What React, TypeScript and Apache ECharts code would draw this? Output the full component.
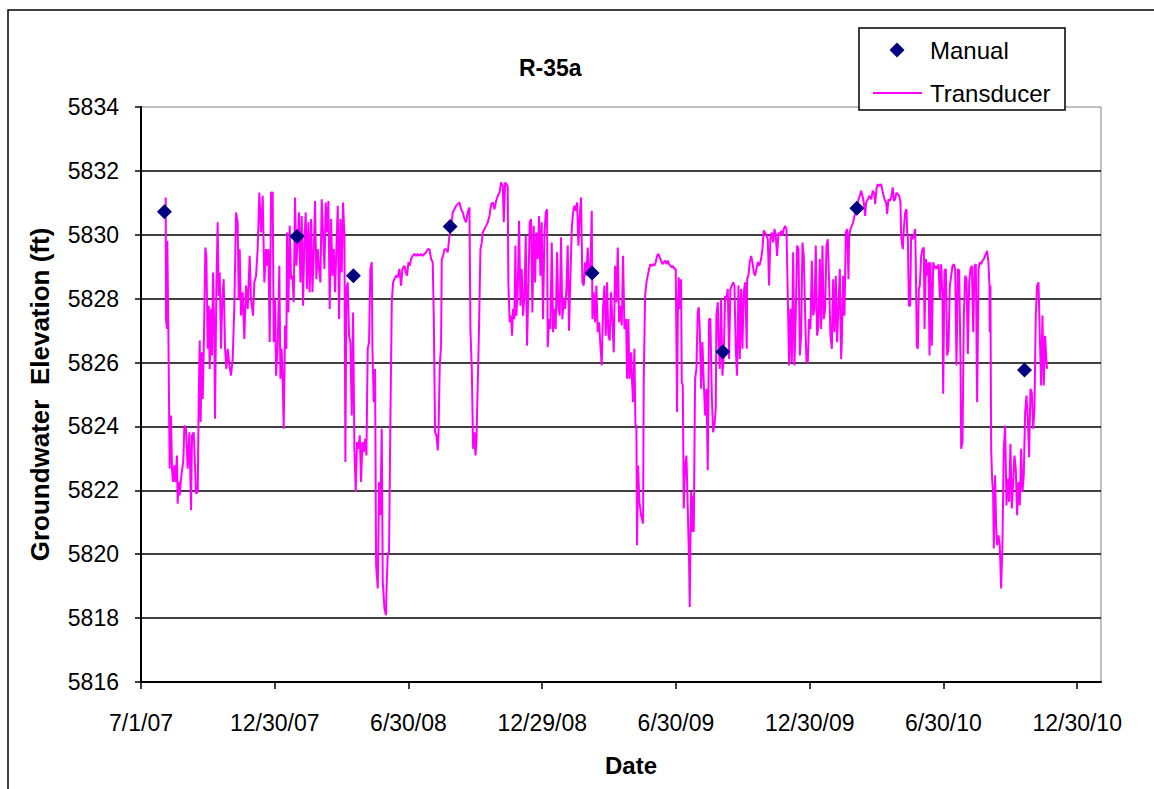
import React, { useEffect, useRef } from "react";
import * as echarts from "echarts";

// x = days since 7/1/07, y = groundwater elevation (ft)
const xTickDays = [0, 182.5, 365, 547.5, 730, 912.5, 1095, 1277.5];
const xTickLabels = ["7/1/07", "12/30/07", "6/30/08", "12/29/08", "6/30/09", "12/30/09", "6/30/10", "12/30/10"];
const yTicks = [5816, 5818, 5820, 5822, 5824, 5826, 5828, 5830, 5832, 5834];
const seriesNames = ["Manual", "Transducer"];

const manual: [number, number][] = [
  [32, 5830.72], [212.9, 5829.95], [289.8, 5828.72], [421.8, 5830.26],
  [615.5, 5828.8], [793.9, 5826.34], [976.8, 5830.83], [1205.6, 5825.77],
];

const augToDec2007: [number, number][] = [
  [33.7,5831.17],[34.1,5827.36],[35.5,5827.05],[35.9,5829.81],[37.3,5827.05],[39.1,5822.68],[41.0,5824.34],[42.3,5822.68],[43.7,5822.26],[45.5,5822.78],[46.9,5822.26],[49.1,5823.09],[50.0,5821.58],[51.4,5822.26],[52.8,5821.84],[54.6,5822.36],[57.8,5822.94],[59.2,5824.03],[61.4,5823.93],[63.7,5822.68],[66.0,5823.82],[68.3,5821.38],[69.6,5823.72],[71.9,5823.82],[73.7,5822.78],[75.1,5821.9],[77.4,5821.95],[78.7,5824.76],[80.1,5826.69],[81.4,5824.14],[82.8,5826.32],[84.2,5824.86],[85.5,5826.22],[87.8,5829.6],[89.2,5829.34],[91.0,5826.43],[92.4,5827.78],[93.7,5825.8],[95.5,5827.68],[96.9,5826.22],[98.3,5828.82],[100.1,5826.84],[101.0,5824.24],[102.8,5828.3],[104.6,5830.39],[106.0,5828.09],[107.4,5828.82],[109.2,5826.43],[111.0,5827.99],[112.8,5828.61],[114.7,5826.43],[116.5,5825.8],[118.3,5826.43],[120.6,5825.91],[122.8,5825.59],[125.1,5826.11],[127.4,5827.78],[129.7,5830.7],[131.9,5830.39],[133.3,5827.99],[134.7,5829.55],[136.5,5827.47],[138.8,5828.2],[141.0,5826.74],[143.3,5828.41],[145.6,5827.68],[148.3,5829.34],[150.1,5827.99],[152.9,5827.47],[154.7,5828.51],[157.0,5828.72],[159.2,5829.55],[161.5,5831.32],[163.8,5830.07],[166.1,5831.22],[168.3,5828.51],
];
const dec07ToMay08: [number, number][] = [
  [170.6,5829.55],[172.0,5829.03],[173.8,5829.55],[175.6,5826.64],[177.5,5831.32],[179.7,5831.32],[181.1,5826.64],[182.9,5827.99],[184.3,5825.59],[186.6,5826.53],[188.8,5829.03],[190.2,5825.49],[192.0,5826.43],[193.4,5825.39],[194.7,5823.93],[196.6,5827.16],[198.4,5826.43],[199.3,5830.07],[201.1,5827.57],[202.9,5830.28],[204.8,5828.61],[206.6,5828.72],[208.4,5827.89],[210.2,5831.17],[212.0,5829.03],[213.9,5829.76],[215.7,5830.7],[217.5,5828.51],[219.3,5830.59],[221.1,5827.78],[223.0,5829.86],[224.8,5830.7],[226.6,5828.3],[228.4,5830.39],[230.2,5828.2],[232.1,5830.49],[233.9,5828.2],[235.7,5829.45],[237.5,5831.06],[239.3,5828.61],[241.2,5829.55],[243.0,5828.93],[244.8,5828.51],[246.6,5831.11],[248.4,5830.07],[250.3,5828.93],[252.1,5831.01],[253.9,5830.07],[255.7,5831.06],[257.5,5827.68],[259.4,5830.49],[261.2,5828.72],[263.0,5829.55],[264.8,5828.2],[266.6,5829.55],[268.5,5830.91],[270.3,5827.36],[272.1,5830.49],[273.9,5828.82],[275.7,5831.01],[277.6,5829.97],[278.9,5822.89],[280.3,5828.3],[282.1,5828.51],[283.9,5826.84],[285.7,5826.64],[287.6,5824.34],[289.4,5827.57],[291.2,5823.3],[293.0,5821.95],[294.8,5823.51],[296.7,5823.3],[298.5,5823.72],[300.3,5822.26],[302.1,5823.51],[303.9,5823.2],[305.8,5823.61],[307.6,5823.09],[309.4,5826.43],[311.2,5826.64],[313.0,5828.93],[314.9,5829.14],[315.8,5826.43],[317.6,5824.76],[319.4,5825.8],[320.8,5819.66],[323.1,5818.93],[324.9,5822.26],[326.7,5821.22],[328.5,5823.93],[329.9,5819.14],[332.2,5818.3],[334.4,5818.09],
];
const jun08ToNov08: [number, number][] = [
  [334.9,5818.82],[336.7,5820.02],[338.5,5820.07],[340.3,5824.14],[342.2,5827.89],[344.0,5828.51],[345.8,5828.61],[348.1,5828.72],[350.4,5828.67],[352.6,5828.93],[354.9,5828.41],[356.7,5828.93],[359.5,5829.03],[361.3,5828.82],[363.1,5828.72],[364.9,5829.14],[366.7,5829.03],[368.6,5829.24],[370.8,5829.34],[373.1,5829.4],[375.4,5829.34],[377.7,5829.4],[379.9,5829.34],[382.2,5829.4],[384.5,5829.34],[386.8,5829.4],[389.0,5829.45],[391.3,5829.55],[393.6,5829.55],[395.9,5829.24],[398.1,5829.14],[399.5,5827.47],[401.3,5823.82],[403.1,5823.72],[405.0,5823.25],[405.9,5823.72],[407.7,5825.91],[409.5,5826.53],[410.4,5829.24],[412.2,5829.34],[414.1,5829.55],[416.3,5829.55],[418.6,5829.45],[420.9,5829.97],[423.2,5830.18],[425.4,5830.7],[427.7,5830.8],[430.0,5830.91],[432.3,5830.96],[434.5,5831.01],[436.8,5830.8],[439.1,5830.7],[441.4,5830.49],[443.6,5830.39],[445.9,5830.7],[448.2,5830.85],[449.5,5827.05],[451.4,5825.8],[453.2,5823.3],[455.0,5823.82],[456.4,5823.09],[457.7,5823.51],[459.6,5825.39],[461.4,5827.26],[463.2,5829.55],[465.0,5829.76],[466.4,5830.07],[468.7,5830.18],[470.9,5830.28],[473.2,5830.39],[475.5,5830.59],[477.8,5830.96],[480.0,5831.01],[482.3,5830.8],[484.6,5831.06],[486.9,5831.22],[489.1,5831.32],[491.4,5831.64],[493.7,5831.53],[495.0,5830.39],[496.9,5831.64],
];
const nov08ToApr09: [number, number][] = [
  [500.4,5831.53],[501.3,5828.51],[503.1,5827.26],[505.0,5827.47],[506.3,5826.84],[507.7,5827.68],[509.5,5827.36],[510.9,5829.66],[512.2,5827.47],[514.1,5828.3],[515.9,5830.44],[517.7,5827.78],[519.5,5828.93],[521.3,5827.47],[523.2,5828.09],[525.0,5829.97],[526.8,5826.53],[528.6,5828.3],[530.4,5830.39],[532.3,5830.49],[534.1,5827.57],[535.9,5830.28],[537.7,5828.51],[539.5,5830.07],[541.4,5829.24],[543.2,5830.59],[545.0,5828.72],[546.8,5830.39],[548.6,5827.36],[550.5,5829.97],[552.3,5830.7],[554.1,5830.8],[555.0,5826.48],[556.8,5827.36],[558.6,5827.05],[560.5,5829.76],[562.3,5826.95],[564.1,5827.68],[565.9,5827.05],[567.7,5829.45],[569.6,5827.68],[571.4,5827.47],[573.2,5829.92],[575.0,5827.36],[576.8,5827.99],[578.7,5827.68],[580.5,5828.3],[582.3,5829.66],[584.1,5827.0],[585.9,5828.61],[587.8,5830.18],[589.6,5830.7],[591.4,5830.91],[593.2,5830.75],[595.0,5831.01],[596.9,5829.66],[598.7,5830.59],[600.5,5831.17],[602.3,5828.51],[604.1,5828.41],[606.0,5829.14],[607.8,5828.72],[609.6,5829.6],[611.4,5828.72],[613.2,5828.82],[615.1,5830.75],[616.0,5827.36],[617.8,5828.2],[619.6,5827.26],[621.4,5828.41],[623.3,5826.95],[625.1,5827.26],[626.9,5826.53],[628.7,5825.91],[630.5,5827.68],[632.4,5828.41],[634.2,5826.84],[636.0,5828.51],[637.8,5826.84],[639.6,5826.69],[641.5,5828.2],[643.3,5827.26],[645.1,5826.32],[646.9,5829.03],[648.7,5827.89],[650.6,5829.6],[652.4,5827.26],[654.2,5827.78],[656.0,5827.16],[657.8,5829.34],[659.7,5827.05],
];
const apr09ToOct09: [number, number][] = [
  [661.9,5827.36],[663.3,5825.49],[665.1,5827.36],[666.5,5825.49],[668.8,5826.32],[670.1,5825.39],[671.5,5824.76],[673.3,5826.43],[674.7,5824.03],[676.0,5824.03],[676.9,5820.28],[678.3,5822.78],[680.1,5821.64],[682.4,5821.22],[685.1,5820.96],[686.0,5825.39],[687.9,5828.09],[689.7,5828.51],[691.5,5828.72],[693.3,5828.93],[695.1,5829.08],[697.0,5829.03],[698.8,5829.08],[700.6,5829.03],[702.4,5829.14],[704.2,5829.34],[706.1,5829.4],[707.9,5829.29],[709.7,5829.19],[711.5,5829.08],[713.3,5829.14],[715.2,5829.19],[717.0,5829.08],[718.8,5829.19],[720.6,5829.08],[722.4,5829.03],[724.3,5828.98],[726.1,5829.03],[727.9,5828.93],[729.7,5828.93],[731.5,5824.45],[732.5,5827.47],[733.8,5828.67],[735.2,5827.68],[737.0,5828.61],[737.9,5825.39],[739.3,5825.28],[740.6,5821.43],[742.5,5822.78],[744.3,5823.09],[746.1,5821.43],[747.9,5819.76],[748.8,5818.35],[749.7,5820.39],[750.7,5821.95],[751.6,5820.7],[752.9,5821.84],[754.3,5820.7],[756.1,5825.49],[757.9,5825.8],[759.7,5827.57],[761.1,5827.73],[762.5,5827.05],[764.3,5825.18],[766.1,5826.64],[767.9,5825.39],[769.8,5824.34],[771.6,5825.18],[773.4,5822.63],[775.2,5827.36],[777.0,5827.36],[778.9,5824.97],[780.7,5823.82],[782.5,5824.03],[784.3,5824.55],[785.2,5827.47],[787.1,5827.89],[788.0,5826.74],[789.8,5825.8],[791.6,5827.99],[793.4,5825.59],[795.2,5826.22],[797.1,5828.09],[798.9,5827.99],[800.7,5828.3],[802.5,5826.11],[804.3,5828.3],[806.2,5828.41],[808.0,5828.51],[809.8,5828.41],[811.6,5826.43],[813.4,5825.59],[815.3,5828.41],[817.1,5826.11],[818.9,5828.3],[820.7,5826.43],[822.5,5828.2],[824.4,5828.51],
];
const oct09ToMar10: [number, number][] = [
  [826.6,5826.43],[827.1,5828.61],[828.9,5828.72],[830.7,5829.14],[832.6,5829.34],[834.4,5829.14],[836.2,5828.82],[838.0,5828.72],[839.8,5828.93],[841.7,5829.14],[843.9,5829.03],[846.2,5829.24],[848.0,5829.55],[849.8,5830.13],[851.7,5830.07],[853.5,5829.97],[855.3,5829.86],[857.1,5828.41],[858.9,5829.97],[860.8,5830.07],[862.6,5829.76],[864.4,5830.18],[866.2,5829.97],[868.0,5829.34],[869.9,5830.07],[871.7,5829.97],[873.5,5830.13],[875.3,5829.97],[877.1,5830.18],[879.0,5830.28],[880.8,5830.18],[882.6,5828.09],[884.4,5825.91],[886.2,5827.68],[888.1,5826.01],[889.9,5829.45],[891.7,5825.91],[893.5,5827.47],[895.3,5829.66],[897.2,5829.55],[899.0,5826.22],[900.8,5826.84],[902.6,5829.76],[904.4,5829.34],[906.3,5827.47],[908.1,5826.01],[909.9,5826.01],[911.7,5827.36],[913.5,5827.05],[915.4,5829.19],[917.2,5827.47],[919.0,5827.68],[920.8,5829.66],[922.6,5826.84],[924.5,5827.16],[926.3,5829.24],[928.1,5827.05],[929.9,5829.66],[931.7,5827.36],[933.6,5827.68],[935.4,5829.66],[937.2,5829.86],[939.0,5828.51],[940.8,5826.84],[942.7,5826.43],[944.5,5828.61],[946.3,5826.95],[948.1,5828.72],[949.9,5826.64],[951.8,5827.78],[953.6,5828.93],[955.4,5826.11],[956.3,5826.64],[958.1,5828.72],[959.9,5827.47],[961.8,5830.07],[963.6,5830.18],[965.4,5828.61],[966.3,5829.97],[968.1,5830.18],[969.9,5830.28],[971.8,5830.39],[973.6,5830.59],[975.4,5830.7],[977.2,5830.85],[979.1,5831.11],[980.9,5831.22],[982.7,5831.38],[984.5,5831.22],[986.3,5831.01],[988.2,5830.59],
];
const mar10ToAug10: [number, number][] = [
  [989.5,5831.01],[991.8,5831.11],[994.1,5831.22],[996.4,5831.11],[998.6,5831.38],[1000.9,5831.27],[1001.8,5830.96],[1003.6,5831.43],[1005.5,5831.58],[1007.7,5831.53],[1010.0,5831.58],[1012.3,5831.32],[1014.6,5831.11],[1016.8,5831.01],[1018.2,5830.65],[1020.0,5831.11],[1021.8,5831.06],[1023.7,5831.17],[1025.9,5831.48],[1027.3,5831.06],[1029.1,5831.11],[1030.9,5831.32],[1032.8,5831.27],[1034.6,5831.22],[1036.4,5831.01],[1037.3,5829.97],[1038.2,5829.76],[1039.6,5829.55],[1040.9,5830.18],[1042.8,5830.7],[1044.6,5830.8],[1045.5,5830.07],[1046.4,5829.97],[1047.8,5827.78],[1049.6,5827.78],[1050.9,5829.97],[1052.8,5829.86],[1054.6,5829.97],[1056.4,5830.18],[1057.3,5829.03],[1058.7,5826.53],[1060.1,5826.43],[1061.4,5828.3],[1062.8,5828.41],[1064.6,5829.34],[1066.4,5829.55],[1068.2,5829.6],[1069.2,5827.05],[1071.0,5829.24],[1072.8,5828.72],[1074.6,5829.14],[1076.0,5826.22],[1077.3,5829.14],[1079.2,5826.53],[1081.0,5829.14],[1082.8,5828.93],[1084.6,5829.03],[1086.4,5828.93],[1088.3,5829.08],[1090.1,5827.99],[1091.9,5829.08],[1093.7,5828.09],[1094.6,5825.02],[1096.5,5828.88],[1098.3,5828.93],[1100.1,5826.22],[1101.9,5826.43],[1103.7,5828.41],[1105.6,5828.72],[1107.4,5829.03],[1109.2,5829.08],[1111.0,5828.93],[1112.8,5825.91],[1114.7,5828.93],[1116.5,5828.88],[1118.3,5826.01],[1119.2,5823.3],[1121.0,5823.51],[1122.8,5827.47],[1124.7,5828.72],[1126.5,5828.61],[1128.3,5826.27],[1130.1,5828.51],[1131.9,5828.93],[1133.8,5829.03],[1135.6,5826.95],[1137.4,5829.03],[1139.2,5829.08],[1141.0,5824.76],[1142.9,5828.93],[1144.7,5829.14],[1146.5,5829.08],[1148.3,5829.19],[1150.1,5829.24],
];
const sep10ToNov10: [number, number][] = [
  [1154.6,5829.5],[1156.4,5829.14],[1157.8,5828.41],[1158.2,5826.95],[1159.1,5828.41],[1160.1,5823.3],[1161.4,5822.36],[1162.8,5821.95],[1163.7,5820.18],[1165.5,5822.47],[1166.9,5820.91],[1168.2,5820.28],[1170.1,5820.59],[1171.9,5820.28],[1173.7,5818.93],[1175.5,5820.28],[1177.3,5823.3],[1179.2,5824.03],[1181.0,5821.53],[1182.8,5822.36],[1184.6,5821.64],[1186.4,5823.46],[1188.3,5821.43],[1190.1,5822.26],[1191.9,5823.09],[1193.7,5822.68],[1195.5,5821.22],[1197.4,5822.26],[1199.2,5821.53],[1201.0,5823.3],[1202.8,5821.95],[1204.6,5822.47],[1206.5,5824.45],[1208.3,5824.97],[1210.1,5824.24],[1211.9,5823.04],[1213.7,5825.18],[1215.6,5825.07],[1217.4,5823.93],[1219.2,5824.55],[1221.0,5827.47],[1222.8,5828.41],[1224.7,5828.51],[1226.5,5826.84],[1228.3,5825.28],[1230.1,5827.47],[1231.9,5825.28],[1233.7,5826.84],[1235.6,5826.01],[1236.5,5825.8],
];

const transducer = [
  ...augToDec2007, ...dec07ToMay08, ...jun08ToNov08, ...nov08ToApr09,
  ...apr09ToOct09, ...oct09ToMar10, ...mar10ToAug10, ...sep10ToNov10,
];

const FONT = 'Arial, "Liberation Sans", sans-serif';
const MANUAL_COLOR = "#000080";
const LINE_COLOR = "#FF00FF";

export default function App() {
  const ref = useRef<HTMLDivElement>(null);
  useEffect(() => {
    document.body.style.margin = "0";
    const chart = echarts.init(ref.current!, null, { renderer: "svg" });
    chart.setOption({
      animation: false,
      backgroundColor: "#ffffff",
      textStyle: { fontFamily: FONT },
      title: {
        text: "R-35a",
        left: 519,
        top: 56,
        padding: 0,
        textStyle: { fontFamily: FONT, fontSize: 23, fontWeight: "bold", color: "#000" },
      },
      graphic: [
        {
          type: "rect",
          z: -10,
          silent: true,
          shape: { x: 8, y: 10, width: 1200, height: 900 },
          style: { fill: "none", stroke: "#000", lineWidth: 1.5 },
        },
        {
          type: "group",
          z: 100,
          silent: true,
          children: [
            {
              type: "rect",
              shape: { x: 859, y: 28, width: 206, height: 82 },
              style: { fill: "#fff", stroke: "#000", lineWidth: 1.5 },
            },
            {
              type: "polygon",
              shape: { points: [[897, 42.5], [904.5, 50], [897, 57.5], [889.5, 50]] },
              style: { fill: MANUAL_COLOR },
            },
            {
              type: "line",
              shape: { x1: 873, y1: 93, x2: 922, y2: 93 },
              style: { stroke: LINE_COLOR, lineWidth: 2 },
            },
            {
              type: "text",
              x: 930,
              y: 50,
              style: { text: seriesNames[0], font: `24px ${FONT}`, fill: "#000", verticalAlign: "middle" },
            },
            {
              type: "text",
              x: 930,
              y: 93,
              style: { text: seriesNames[1], font: `24px ${FONT}`, fill: "#000", verticalAlign: "middle" },
            },
          ],
        },
      ],
      grid: {
        left: 141,
        right: 53,
        top: 107,
        bottom: 107,
        show: true,
        borderColor: "#808080",
        borderWidth: 1,
        backgroundColor: "transparent",
      },
      xAxis: {
        type: "value",
        min: 0,
        max: 1310,
        name: "Date",
        nameLocation: "middle",
        nameGap: 71,
        nameTextStyle: { fontFamily: FONT, fontSize: 24, fontWeight: "bold", color: "#000", padding: [0, 0, 0, 20] },
        axisLine: { show: true, lineStyle: { color: "#000", width: 2 } },
        axisTick: { show: true, length: 7, customValues: xTickDays, lineStyle: { color: "#000", width: 1.5 } },
        axisLabel: {
          customValues: xTickDays,
          margin: 29,
          fontFamily: FONT,
          fontSize: 23,
          color: "#000",
          formatter: (v: number) => {
            const i = xTickDays.indexOf(v);
            return i >= 0 ? xTickLabels[i] : "";
          },
        },
        splitLine: { show: false },
      },
      yAxis: {
        type: "value",
        min: yTicks[0],
        max: yTicks[yTicks.length - 1],
        interval: 2,
        name: "Groundwater  Elevation (ft)",
        nameLocation: "middle",
        nameGap: 88,
        nameTextStyle: { fontFamily: FONT, fontSize: 26, fontWeight: "bold", color: "#000" },
        axisLine: { show: true, lineStyle: { color: "#000", width: 2 } },
        axisTick: { show: true, length: 6, lineStyle: { color: "#000", width: 1.5 } },
        axisLabel: {
          margin: 22,
          fontFamily: FONT,
          fontSize: 23,
          color: "#000",
          formatter: (v: number) => String(v),
        },
        splitLine: { show: true, showMaxLine: false, lineStyle: { color: "#000", width: 1.5 } },
      },
      series: [
        {
          name: seriesNames[0],
          type: "scatter",
          data: manual,
          symbol: "diamond",
          symbolSize: 15,
          itemStyle: { color: MANUAL_COLOR, opacity: 1 },
          z: 5,
        },
        {
          name: seriesNames[1],
          type: "line",
          data: transducer,
          symbol: "none",
          showSymbol: false,
          lineStyle: { color: LINE_COLOR, width: 2 },
          itemStyle: { color: LINE_COLOR },
          z: 3,
        },
      ],
    });
    return () => chart.dispose();
  }, []);
  return <div ref={ref} style={{ width: 1154, height: 789 }} />;
}
